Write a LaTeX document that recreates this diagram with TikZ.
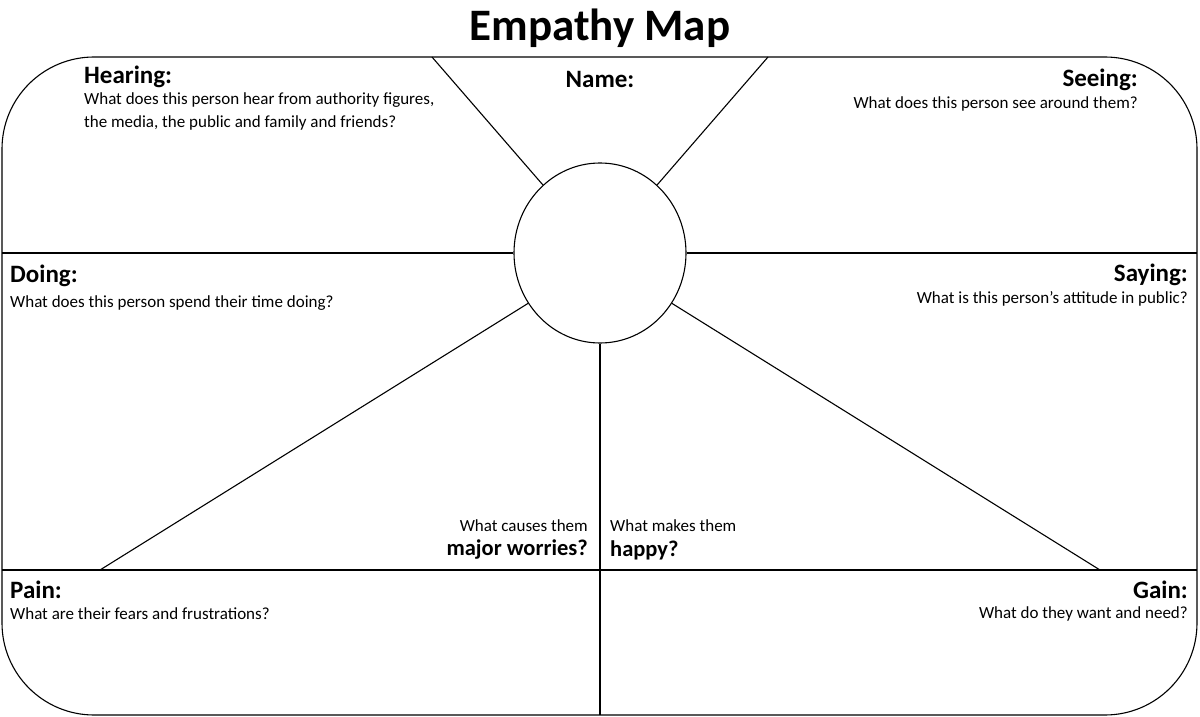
\documentclass[tikz,border=0pt]{standalone}
\usepackage{fontspec}
\usetikzlibrary{shapes.geometric}
\setmainfont{Carlito}
\begin{document}
\begin{tikzpicture}[x=1pt,y=-1pt,
  ln/.style={line width=1.1pt},
  hd/.style={font=\fontsize{25}{27}\selectfont\bfseries,inner sep=0pt},
  hs/.style={font=\fontsize{22.5}{24}\selectfont\bfseries,inner sep=0pt},
  bd/.style={font=\fontsize{17}{23}\selectfont,inner sep=0pt,align=left},
  bdr/.style={font=\fontsize{17}{23}\selectfont,inner sep=0pt,align=right}]
\useasboundingbox (0,0) rectangle (1200,717);
\draw[ln,rounded corners=92] (2,57) rectangle (1197,715);
\node[draw,ln,ellipse,minimum width=172,minimum height=180,inner sep=0] (c) at (600,253) {};
\coordinate (L) at (2,253); \coordinate (R) at (1197,253);
\draw[ln] (L) -- (c.west); \draw[ln] (c.east) -- (R);
\coordinate (PL) at (2,570); \coordinate (PR) at (1197,570);
\draw[ln] (PL) -- (PR);
\coordinate (t1) at (432,57); \coordinate (t2) at (768,57);
\draw[ln] (t1) -- (c.130); \draw[ln] (t2) -- (c.50);
\coordinate (b1) at (100,570); \coordinate (b2) at (1100,570);
\draw[ln] (c.215) -- (b1); \draw[ln] (c.325) -- (b2);
\coordinate (v) at (600,715);
\draw[ln] (c.south) -- (v);
\node[font=\fontsize{45}{48}\selectfont\bfseries] (title) at (600,28) {Empathy Map};
\node[hd,anchor=west] (h) at (84,77) {Hearing:};
\node[bd,anchor=north west] (hb) at (84,92) {What does this person hear from authority figures,\\the media, the public and family and friends?};
\node[hd] (n) at (600,79) {Name:};
\node[hd,anchor=east] (s) at (1138,80) {Seeing:};
\node[bdr,anchor=east] (sb) at (1138,104) {What does this person see around them?};
\node[hd,anchor=west] (d) at (10,276) {Doing:};
\node[bd,anchor=west] (db) at (10,303) {What does this person spend their time doing?};
\node[hd,anchor=east] (sa) at (1188,275) {Saying:};
\node[bdr,anchor=east] (sab) at (1188,299) {What is this person’s attitude in public?};
\node[bdr,anchor=east] (w) at (588,526) {What causes them};
\node[hs,anchor=east] (w2) at (588,550) {major worries?};
\node[bd,anchor=west] (m) at (610,526) {What makes them};
\node[hs,anchor=west] (m2) at (610,550) {happy?};
\node[hd,anchor=west] (p) at (10,590) {Pain:};
\node[bd,anchor=west] (pb) at (10,614) {What are their fears and frustrations?};
\node[hd,anchor=east] (g) at (1188,590) {Gain:};
\node[bdr,anchor=east] (gb) at (1188,614) {What do they want and need?};
\end{tikzpicture}
\end{document}
